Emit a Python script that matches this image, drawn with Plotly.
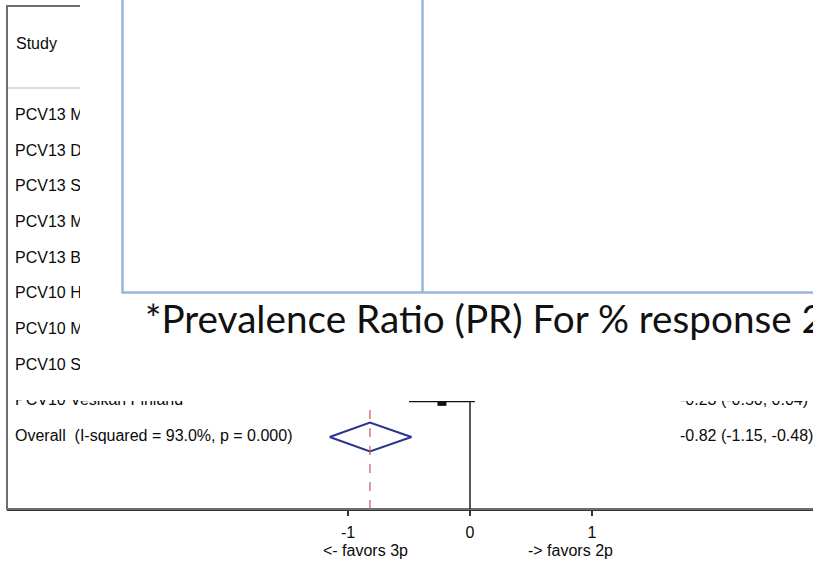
import plotly.graph_objects as go

# ---------------- data ----------------
study_labels = ["PCV13 M", "PCV13 D", "PCV13 S", "PCV13 M", "PCV13 B",
                "PCV10 H", "PCV10 M", "PCV10 S", "PCV10 Vesikari Finland",
                "Overall\u00a0\u00a0(I-squared = 93.0%, p = 0.000)"]
# visible effect estimates (only the last study row is visible)
vis_rows = [8]
vis_est = [-0.23]
vis_lo = [-0.50]
vis_hi = [0.04]
overall_row = 9
overall_est = -0.82
overall_lo = -1.15
overall_hi = -0.48
value_text = ["-0.23 (-0.50, 0.04)", "-0.82 (-1.15, -0.48)"]
value_rows = [8, 9]
tick_vals = [-1, 0, 1]
tick_text = ["-1", "0", "1"]
caption = "*Prevalence Ratio (PR) For % response 2"

# ---------------- geometry ----------------
W, H = 813, 561
X0PX, UNIT = 470, 122          # px of x=0 and px per unit
ROW0PX, ROWPX = 116, 35.67     # px of row 0 and px per row
AXIS_Y = 509                   # pixel row of the x axis


def px(x):
    return x / W


def py(y):
    return 1 - y / H


x_left_px = 7
x_range = [(x_left_px - X0PX) / UNIT, (W - X0PX) / UNIT]
y_range = [(AXIS_Y - ROW0PX) / ROWPX, (0 - ROW0PX) / ROWPX]

LABEL_FONT = dict(family="Liberation Sans", size=16, color="#0a0a0a")

fig = go.Figure()

# CI line + square
fig.add_trace(go.Scatter(
    x=[vis_lo[0], vis_hi[0]], y=[vis_rows[0], vis_rows[0]], mode="lines",
    line=dict(color="#111111", width=2), hoverinfo="skip", showlegend=False))
fig.add_trace(go.Scatter(
    x=vis_est, y=vis_rows, mode="markers",
    marker=dict(symbol="square", size=9, color="#111111"),
    hoverinfo="skip", showlegend=False))

# overall diamond
h = 14.5 / ROWPX
fig.add_trace(go.Scatter(
    x=[overall_lo, overall_est, overall_hi, overall_est, overall_lo],
    y=[overall_row, overall_row - h, overall_row, overall_row + h, overall_row],
    mode="lines", line=dict(color="#2a3590", width=2),
    hoverinfo="skip", showlegend=False))

# study labels
fig.add_trace(go.Scatter(
    x=[(15 - X0PX) / UNIT] * len(study_labels), y=list(range(len(study_labels))),
    mode="text", text=study_labels, textposition="middle right",
    textfont=LABEL_FONT, hoverinfo="skip", showlegend=False))

# values column
fig.add_trace(go.Scatter(
    x=[(680 - X0PX) / UNIT] * len(value_text), y=value_rows,
    mode="text", text=value_text, textposition="middle right",
    textfont=LABEL_FONT, hoverinfo="skip", showlegend=False))

shapes = []
# outer frame
shapes.append(dict(type="rect", xref="paper", yref="paper",
                   x0=px(7), x1=px(840), y0=py(AXIS_Y), y1=py(6),
                   line=dict(color="#6e6e6e", width=2), layer="above"))
# header separator
shapes.append(dict(type="line", xref="paper", yref="paper",
                   x0=px(8), x1=px(813), y0=py(88), y1=py(88),
                   line=dict(color="#dcdcdc", width=2), layer="above"))
# zero line
shapes.append(dict(type="line", xref="x", yref="paper",
                   x0=0, x1=0, y0=py(AXIS_Y), y1=py(6),
                   line=dict(color="#222222", width=1.5), layer="above"))
# overall estimate dashed line
shapes.append(dict(type="line", xref="x", yref="paper",
                   x0=overall_est, x1=overall_est, y0=py(AXIS_Y), y1=py(6),
                   line=dict(color="#c4585e", width=1.2, dash="dash"), layer="above"))
# white overlays (slide objects covering the plot)
shapes.append(dict(type="rect", xref="paper", yref="paper",
                   x0=px(80), x1=px(830), y0=py(401), y1=py(-5),
                   fillcolor="white", line=dict(width=0), layer="above"))
shapes.append(dict(type="rect", xref="paper", yref="paper",
                   x0=px(9), x1=px(81), y0=py(400), y1=py(383),
                   fillcolor="white", line=dict(width=0), layer="above"))
# blue table outline
TBL = dict(color="#98b4d8", width=2.5)
shapes.append(dict(type="line", xref="paper", yref="paper",
                   x0=px(122.5), x1=px(122.5), y0=py(292.5), y1=py(-5), line=TBL, layer="above"))
shapes.append(dict(type="line", xref="paper", yref="paper",
                   x0=px(422.5), x1=px(422.5), y0=py(292.5), y1=py(-5), line=TBL, layer="above"))
shapes.append(dict(type="line", xref="paper", yref="paper",
                   x0=px(121.3), x1=px(830), y0=py(292.5), y1=py(292.5), line=TBL, layer="above"))

annotations = [
    dict(text="Study", xref="paper", yref="paper", x=px(14), y=py(44),
         xanchor="left", yanchor="middle", showarrow=False, font=LABEL_FONT),
    dict(text=caption, xref="paper", yref="paper", x=px(143), y=py(318),
         xanchor="left", yanchor="middle", showarrow=False,
         font=dict(family="Lato", size=38.7, color="#111111")),
    dict(text="<- favors 3p", xref="paper", yref="paper", x=px(365), y=py(550),
         xanchor="center", yanchor="middle", showarrow=False, font=LABEL_FONT),
    dict(text="-> favors 2p", xref="paper", yref="paper", x=px(570), y=py(550),
         xanchor="center", yanchor="middle", showarrow=False, font=LABEL_FONT),
]

fig.update_layout(
    width=W, height=H, margin=dict(l=0, r=0, t=0, b=0),
    paper_bgcolor="white", plot_bgcolor="white",
    shapes=shapes, annotations=annotations, showlegend=False,
    xaxis=dict(domain=[x_left_px / W, 1], range=x_range, showgrid=False,
               zeroline=False, showline=True, linecolor="#333333", linewidth=2,
               ticks="outside", ticklen=5, tickwidth=1.5, tickcolor="#333333",
               tickvals=tick_vals, ticktext=tick_text, ticklabelstandoff=3,
               tickfont=LABEL_FONT, fixedrange=True),
    yaxis=dict(domain=[(H - AXIS_Y) / H, 1], range=y_range, visible=False,
               showgrid=False, zeroline=False, fixedrange=True),
)

fig.write_html("out.html", config={"displayModeBar": False},
               post_script="document.body.style.margin='0';document.body.style.overflow='hidden';")
